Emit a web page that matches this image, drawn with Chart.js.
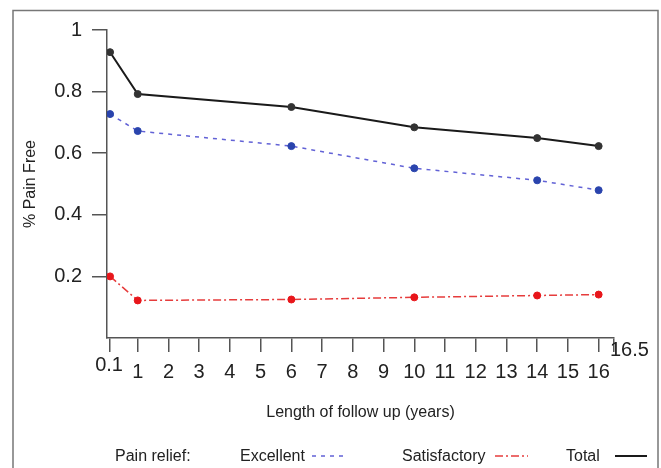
<!DOCTYPE html>
<html lang="en">
<head>
<meta charset="UTF-8">
<title>% Pain Free by length of follow up</title>
<script src="https://cdn.jsdelivr.net/npm/chart.js"></script>
<style>
    body { margin: 0; background: #ffffff; }
    canvas { display: block; }
</style>
</head>
<body>
<canvas id="painChart" width="661" height="468"></canvas>
<script>
    // data
    const followUp = [0.1, 1, 6, 10, 14, 16];
    const excellent = [0.727, 0.672, 0.623, 0.551, 0.512, 0.480];
    const satisfactory = [0.200, 0.122, 0.125, 0.132, 0.138, 0.141];
    const total = [0.928, 0.792, 0.750, 0.684, 0.649, 0.623];
    const xTicks = [0.1, 1, 2, 3, 4, 5, 6, 7, 8, 9, 10, 11, 12, 13, 14, 15, 16, 16.5];
    const yTicks = [0.2, 0.4, 0.6, 0.8, 1];
    const seriesNames = ['Excellent', 'Satisfactory', 'Total'];
    const legendTitle = 'Pain relief:';

    const FONT = '"Liberation Sans", Arial, Helvetica, sans-serif';
    Chart.defaults.font.family = FONT;
    Chart.defaults.color = '#222';

    const firstTick = xTicks[0];
    const lastTick = xTicks[xTicks.length - 1];

    function points(values) {
        return followUp.map((x, i) => ({ x: x, y: values[i] }));
    }

    // grey frame round the figure (open at the bottom)
    const framePlugin = {
        id: 'frame',
        beforeDraw(chart) {
            const ctx = chart.ctx;
            ctx.save();
            ctx.strokeStyle = '#777';
            ctx.lineWidth = 1.5;
            ctx.beginPath();
            ctx.moveTo(13, 468);
            ctx.lineTo(13, 10.5);
            ctx.lineTo(658, 10.5);
            ctx.lineTo(658, 468);
            ctx.stroke();
            ctx.restore();
        }
    };

    // first and last x labels are drawn raised, as in the original
    const endLabelPlugin = {
        id: 'endLabels',
        afterDraw(chart) {
            const sx = chart.scales.x;
            const ctx = chart.ctx;
            ctx.save();
            ctx.font = '20px ' + FONT;
            ctx.fillStyle = '#222';
            ctx.textBaseline = 'middle';
            ctx.textAlign = 'center';
            ctx.fillText(String(firstTick), sx.getPixelForValue(firstTick) - 1, sx.top + 27);
            ctx.textAlign = 'left';
            ctx.fillText(String(lastTick), sx.getPixelForValue(lastTick) - 4, sx.top + 12);
            ctx.restore();
        }
    };

    // legend row under the axis title: text first, then line sample
    const legendPlugin = {
        id: 'bottomLegend',
        afterDraw(chart) {
            const ctx = chart.ctx;
            const slots = [
                { text: 240, from: 312, to: 345 },
                { text: 402, from: 495, to: 528 },
                { text: 566, from: 615, to: 647 }
            ];
            ctx.save();
            ctx.font = '16px ' + FONT;
            ctx.fillStyle = '#222';
            ctx.textBaseline = 'alphabetic';
            ctx.fillText(legendTitle, 115, 461);
            chart.data.datasets.forEach((ds, i) => {
                const s = slots[i];
                ctx.fillStyle = '#222';
                ctx.fillText(ds.label, s.text, 461);
                ctx.strokeStyle = ds.borderColor;
                ctx.lineWidth = ds.borderWidth;
                ctx.setLineDash(ds.borderDash || []);
                ctx.beginPath();
                ctx.moveTo(s.from, 456);
                ctx.lineTo(s.to, 456);
                ctx.stroke();
            });
            ctx.restore();
        }
    };

    const ctx = document.getElementById('painChart').getContext('2d');
    new Chart(ctx, {
        type: 'line',
        data: {
            datasets: [
                {
                    label: seriesNames[0],
                    data: points(excellent),
                    borderColor: '#6262d6',
                    borderWidth: 1.5,
                    borderDash: [4, 5],
                    pointBackgroundColor: '#2a44ad',
                    pointBorderColor: '#2a44ad',
                    pointBorderWidth: 1,
                    pointRadius: 3.5
                },
                {
                    label: seriesNames[1],
                    data: points(satisfactory),
                    borderColor: '#e63c3c',
                    borderWidth: 1.5,
                    borderDash: [8, 3, 2, 3],
                    pointBackgroundColor: '#e8161b',
                    pointBorderColor: '#e8161b',
                    pointBorderWidth: 1,
                    pointRadius: 3.5
                },
                {
                    label: seriesNames[2],
                    data: points(total),
                    borderColor: '#1a1a1a',
                    borderWidth: 2,
                    pointBackgroundColor: '#333333',
                    pointBorderColor: '#333333',
                    pointBorderWidth: 1,
                    pointRadius: 3.5
                }
            ]
        },
        options: {
            responsive: false,
            animation: false,
            devicePixelRatio: 1,
            layout: { padding: { left: 13, top: 30, right: 47, bottom: 40 } },
            plugins: {
                legend: { display: false },
                tooltip: { enabled: false }
            },
            scales: {
                x: {
                    type: 'linear',
                    min: 0,
                    max: 16.5,
                    afterBuildTicks: (s) => { s.ticks = xTicks.map(v => ({ value: v })); },
                    afterFit: (s) => { s.height = 90; },
                    ticks: {
                        autoSkip: false,
                        maxRotation: 0,
                        minRotation: 0,
                        padding: 8,
                        color: '#222',
                        font: { size: 20 },
                        callback: (v) => (v === firstTick || v === lastTick) ? '' : String(v)
                    },
                    grid: { drawOnChartArea: false, tickLength: 14, color: '#555', lineWidth: 1.5 },
                    border: { color: '#555', width: 1.5 },
                    title: {
                        display: true,
                        text: 'Length of follow up (years)',
                        color: '#222',
                        font: { size: 16 },
                        padding: { top: 0, bottom: 6 }
                    }
                },
                y: {
                    min: 0,
                    max: 1,
                    afterBuildTicks: (s) => { s.ticks = yTicks.map(v => ({ value: v })); },
                    afterFit: (s) => { s.width = 94; },
                    ticks: {
                        padding: 10,
                        color: '#222',
                        font: { size: 20 },
                        callback: (v) => String(v)
                    },
                    grid: { drawOnChartArea: false, tickLength: 15, color: '#555', lineWidth: 1.5 },
                    border: { color: '#555', width: 1.5 },
                    title: {
                        display: true,
                        text: '% Pain Free',
                        color: '#222',
                        font: { size: 16 },
                        padding: { top: 8, bottom: 0 }
                    }
                }
            }
        },
        plugins: [framePlugin, endLabelPlugin, legendPlugin]
    });
</script>
</body>
</html>
